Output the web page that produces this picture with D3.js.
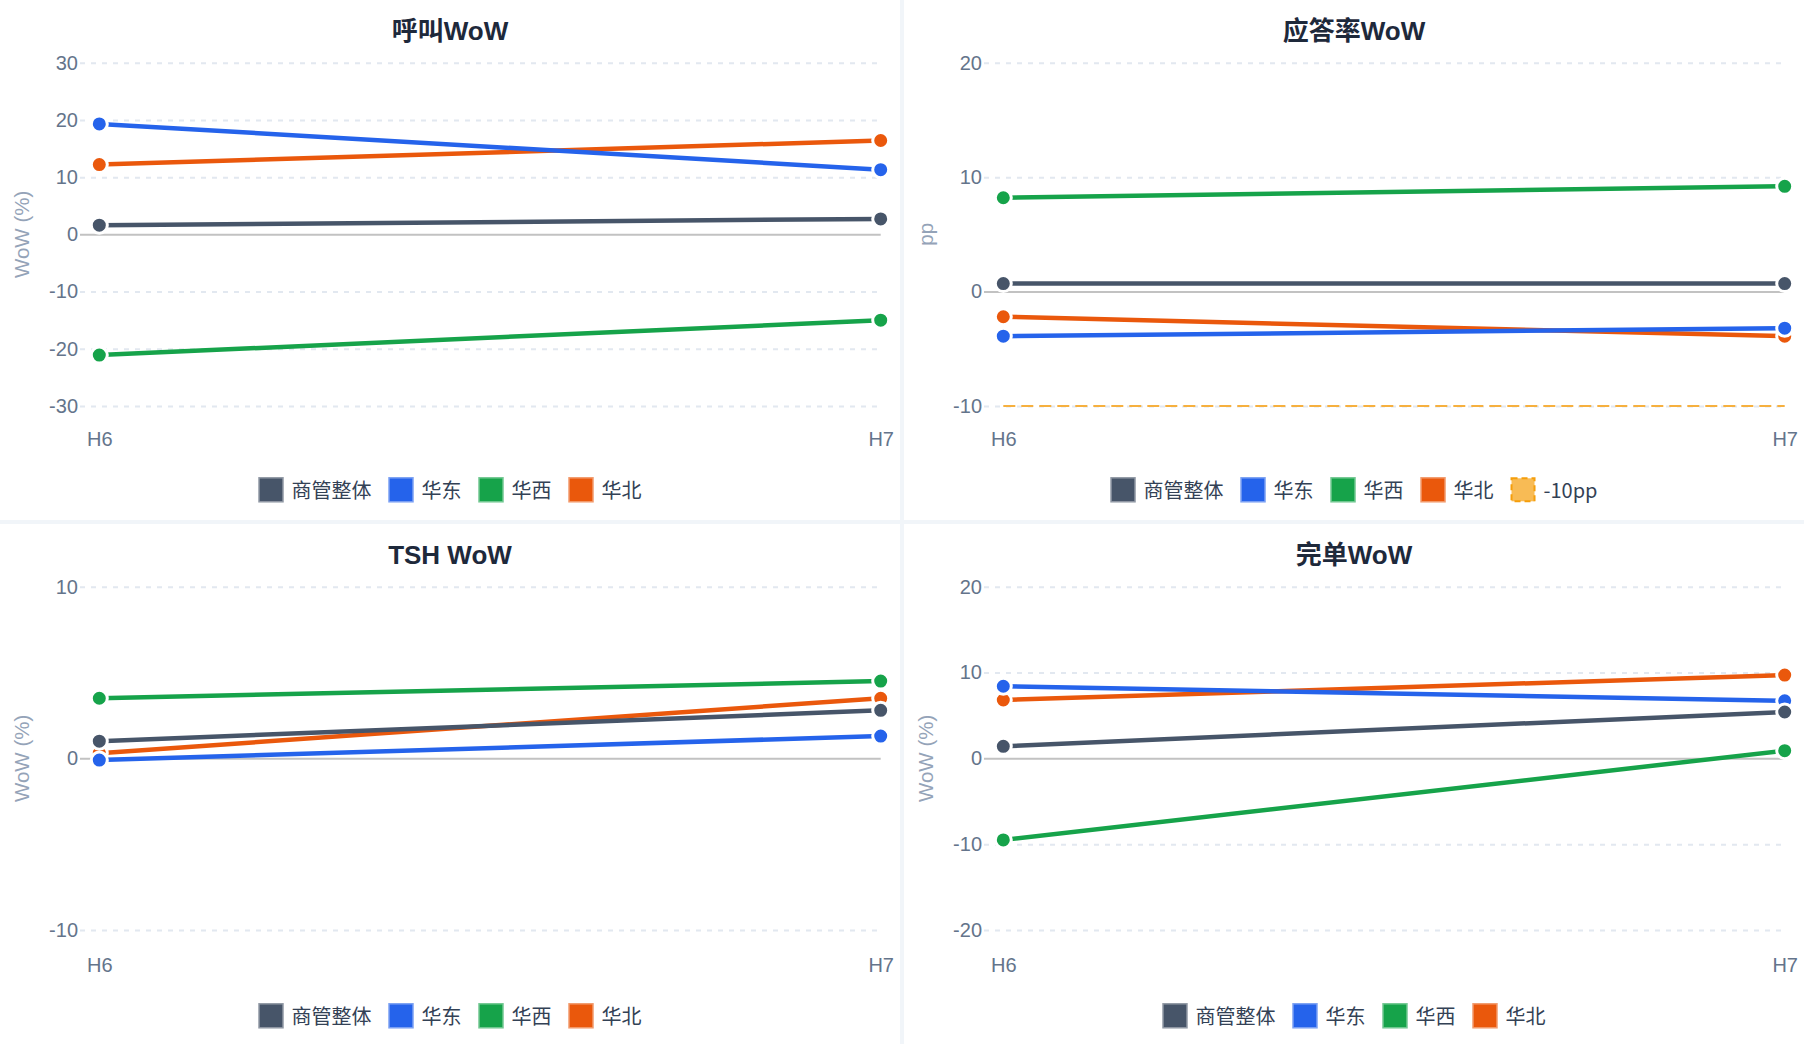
<!DOCTYPE html>
<html>
<head>
<meta charset="utf-8">
<script src="https://cdn.jsdelivr.net/npm/d3@7"></script>
<style>
body { margin: 0; background: #f1f5f9; }
svg { display: block; }
</style>
</head>
<body>
<script>
// categories and series
var periods = ["H6", "H7"];
var regions = ["商管整体", "华东", "华西", "华北"];
var colours = ["#475569", "#2563eb", "#16a34a", "#ea580c"];

// WoW values per region, [H6, H7]
var callWow   = [[1.6, 2.7], [19.3, 11.3], [-21.1, -15.0], [12.2, 16.4]];
var answerWow = [[0.7, 0.7], [-3.9, -3.2], [8.2, 9.2], [-2.2, -3.9]];
var tshWow    = [[1.0, 2.8], [-0.1, 1.3], [3.5, 4.5], [0.3, 3.5]];
var doneWow   = [[1.4, 5.4], [8.4, 6.7], [-9.5, 0.9], [6.8, 9.7]];

var answerRef = [-10, -10];   // -10pp guide
var refLabel = "-10pp";

var callTicks   = [30, 20, 10, 0, -10, -20, -30];
var answerTicks = [20, 10, 0, -10];
var tshTicks    = [10, 0, -10];
var doneTicks   = [20, 10, 0, -10, -20];

var W = 1804, H = 1044;
var pw = 900, ph = 520, gap = 4;
var gridLeft = 80, px0 = 99.3, px1 = 880.7, plotTop = 62.7, plotBottom = 406;
var font = "'Liberation Sans', Arial, 'Noto Sans CJK SC', sans-serif";
var cjk = "'Noto Sans CJK SC', 'Liberation Sans', sans-serif";

var svg = d3.select("body").append("svg")
    .attr("width", W).attr("height", H);

var panels = [
  {title: "呼叫WoW", unit: "WoW (%)", data: callWow, ticks: callTicks, col: 0, row: 0},
  {title: "应答率WoW", unit: "pp", data: answerWow, ticks: answerTicks, col: 1, row: 0, ref: answerRef},
  {title: "TSH WoW", unit: "WoW (%)", data: tshWow, ticks: tshTicks, col: 0, row: 1},
  {title: "完单WoW", unit: "WoW (%)", data: doneWow, ticks: doneTicks, col: 1, row: 1}
];

panels.forEach(function(p) { drawPanel(p); });

function drawPanel(p) {
    var g = svg.append("g")
        .attr("transform", "translate(" + (p.col * (pw + gap)) + "," + (p.row * (ph + gap)) + ")");
    g.append("rect").attr("width", pw).attr("height", ph).attr("fill", "white");
    var low = p.row * 2;   // bottom row sits a touch lower

    var x = d3.scalePoint().domain(periods).range([px0, px1]);
    var y = d3.scaleLinear().domain([d3.min(p.ticks), d3.max(p.ticks)]).range([plotBottom, plotTop]);

    // title
    g.append("text")
        .attr("x", pw / 2).attr("y", 31)
        .attr("text-anchor", "middle").attr("dominant-baseline", "central")
        .attr("font-family", font).attr("font-weight", "bold").attr("font-size", 26)
        .attr("fill", "#1e293b")
        .text(p.title);

    // y axis + grid
    var yAxis = g.append("g")
        .attr("transform", "translate(" + gridLeft + ",0)")
        .call(d3.axisLeft(y).tickValues(p.ticks).tickSize(-(px1 - gridLeft)).tickPadding(2)
            .tickFormat(function(d) { return String(d); }));
    yAxis.select(".domain").remove();
    yAxis.selectAll(".tick line")
        .attr("stroke", function(d) { return d === 0 ? "#c2c2c2" : "#e2e8f0"; })
        .attr("stroke-width", 2)
        .attr("stroke-dasharray", function(d) { return d === 0 ? null : "5,6"; });
    yAxis.selectAll(".tick text")
        .attr("font-family", font).attr("font-size", 20).attr("fill", "#64748b");

    // y title
    g.append("text")
        .attr("transform", "translate(21," + ((plotTop + plotBottom) / 2) + ") rotate(-90)")
        .attr("text-anchor", "middle").attr("dominant-baseline", "central")
        .attr("font-family", font).attr("font-size", 20.5).attr("fill", "#94a3b8")
        .text(p.unit);

    // x axis labels
    var xAxis = g.append("g")
        .attr("transform", "translate(0," + (439 + low) + ")")
        .call(d3.axisBottom(x).tickSize(0).tickPadding(0));
    xAxis.select(".domain").remove();
    xAxis.selectAll(".tick text")
        .attr("y", 0).attr("dy", "0.35em")
        .attr("font-family", font).attr("font-size", 20).attr("fill", "#64748b");

    var line = d3.line()
        .x(function(d, i) { return x(periods[i]); })
        .y(function(d) { return y(d); });

    if (p.ref) {
        g.append("path")
            .attr("d", line(p.ref))
            .attr("fill", "none").attr("stroke", "#f6b03f").attr("stroke-width", 2)
            .attr("stroke-dasharray", "12,6");
    }

    // first series sits on top, so draw in reverse
    d3.range(regions.length).reverse().forEach(function(k) {
        var s = g.append("g");
        s.append("path")
            .attr("d", line(p.data[k]))
            .attr("fill", "none").attr("stroke", colours[k]).attr("stroke-width", 4.5);
        s.selectAll("circle")
            .data(p.data[k])
            .enter().append("circle")
            .attr("cx", function(d, i) { return x(periods[i]); })
            .attr("cy", function(d) { return y(d); })
            .attr("r", 8)
            .attr("fill", colours[k])
            .attr("stroke", "white").attr("stroke-width", 3);
    });

    // legend
    var items = regions.map(function(r, i) { return {label: r, colour: colours[i]}; });
    if (p.ref) items.push({label: refLabel, colour: "#f59e0b", dashed: true});

    var leg = g.append("g");
    var pos = 0;
    items.forEach(function(it) {
        var ig = leg.append("g").attr("transform", "translate(" + pos + ",0)");
        if (it.dashed) {
            ig.append("rect").attr("x", 1).attr("y", 1).attr("width", 23).attr("height", 23)
                .attr("fill", "#f8bb55")
                .attr("stroke", "#f59e0b").attr("stroke-width", 2).attr("stroke-dasharray", "6,4");
        } else {
            ig.append("rect").attr("x", 0.5).attr("y", 0.5).attr("width", 24).attr("height", 24)
                .attr("fill", it.colour)
                .attr("stroke", d3.interpolateRgb(it.colour, "white")(0.4)).attr("stroke-width", 1.5);
        }
        var t = ig.append("text")
            .attr("x", 33).attr("y", 12.5)
            .attr("dominant-baseline", "central")
            .attr("font-family", cjk).attr("font-size", 20).attr("fill", "#334155")
            .text(it.label);
        pos += 33 + t.node().getComputedTextLength() + 17;
    });
    var total = pos - 17;
    leg.attr("transform", "translate(" + (pw / 2 - total / 2) + "," + (477.3 + low) + ")");
}
</script>
</body>
</html>
